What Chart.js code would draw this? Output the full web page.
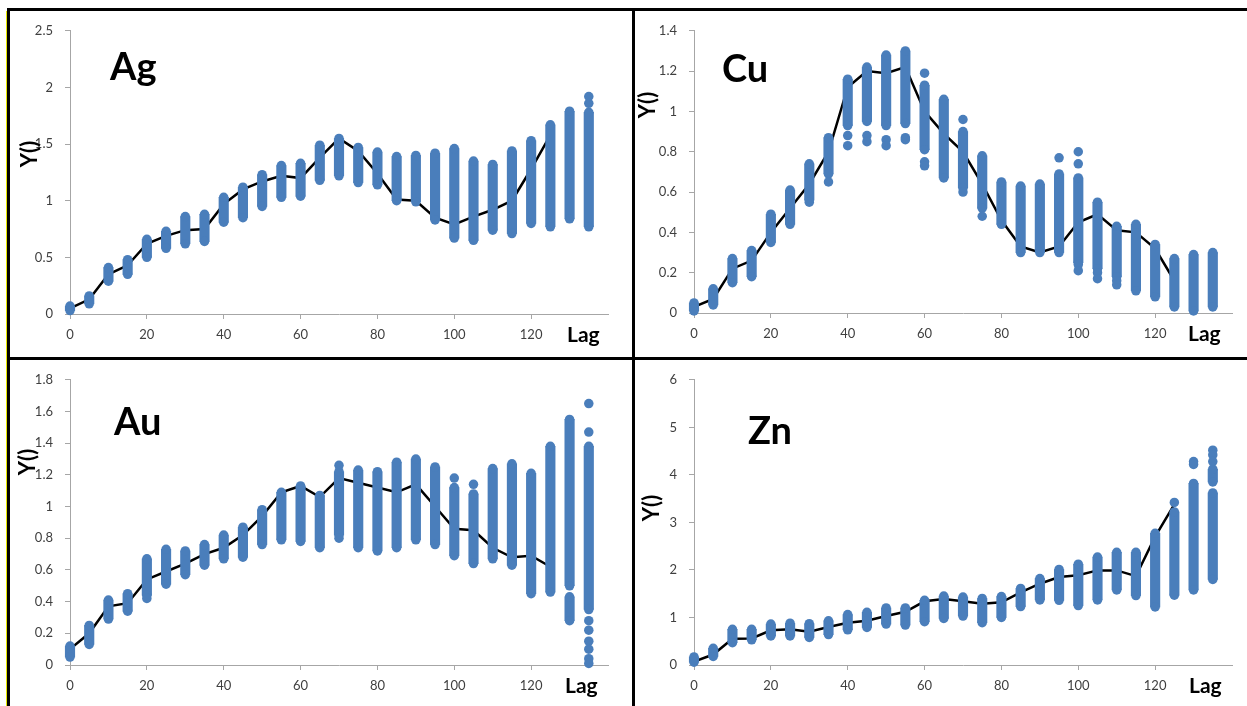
<!DOCTYPE html>
<html>
<head>
<meta charset="utf-8">
<title>Variogram clouds - Ag, Cu, Au, Zn</title>
<script src="https://cdn.jsdelivr.net/npm/chart.js@4.4.1/dist/chart.umd.min.js"></script>
<style>
  body { margin: 0; background: #fff; }
  #wrap { position: relative; width: 1247px; height: 706px; overflow: hidden; background: #fff; }
  #wrap canvas, #wrap .rule { position: absolute; }
  .rule { background: #000; }
</style>
</head>
<body>
<div id="wrap">
  <div class="rule" style="left:6px;top:11px;width:1px;height:695px;background:#e6e600"></div>
  <div class="rule" style="left:7px;top:8px;width:3px;height:698px"></div>
  <div class="rule" style="left:7px;top:8px;width:1240px;height:3px"></div>
  <div class="rule" style="left:632px;top:8px;width:3px;height:698px"></div>
  <div class="rule" style="left:7px;top:357px;width:1240px;height:3px"></div>
  <canvas id="chartAg" width="622" height="346" style="left:10px;top:11px"></canvas>
  <canvas id="chartCu" width="612" height="346" style="left:635px;top:11px"></canvas>
  <canvas id="chartAu" width="622" height="346" style="left:10px;top:360px"></canvas>
  <canvas id="chartZn" width="612" height="346" style="left:635px;top:360px"></canvas>
</div>
<script>
// Lag classes
const lags = [0, 5, 10, 15, 20, 25, 30, 35, 40, 45, 50, 55, 60, 65, 70, 75, 80, 85, 90, 95, 100, 105, 110, 115, 120, 125, 130, 135];
const meanLags = [0, 5, 10, 15, 20, 25, 30, 35, 40, 45, 50, 55, 60, 65, 70, 75, 80, 85, 90, 95, 100, 105, 110, 115, 120, 125];
const xTicks = [0, 20, 40, 60, 80, 100, 120];

// Ag
const agLow = [0.03, 0.09, 0.29, 0.35, 0.50, 0.58, 0.62, 0.64, 0.81, 0.85, 0.95, 1.03, 1.04, 1.18, 1.22, 1.16, 1.14, 1.00, 0.99, 0.83, 0.67, 0.65, 0.74, 0.71, 0.80, 0.77, 0.84, 0.77];
const agHigh = [0.07, 0.16, 0.41, 0.48, 0.66, 0.73, 0.86, 0.88, 1.03, 1.12, 1.23, 1.31, 1.33, 1.49, 1.55, 1.47, 1.43, 1.39, 1.40, 1.42, 1.46, 1.35, 1.32, 1.44, 1.53, 1.67, 1.79, 1.78];
const agDots = [[135, 1.86], [135, 1.92]];
const agRanges = [];
const agMean = [0.05, 0.13, 0.35, 0.43, 0.62, 0.69, 0.74, 0.75, 0.97, 1.10, 1.17, 1.22, 1.20, 1.38, 1.55, 1.44, 1.24, 1.01, 1.00, 0.85, 0.79, 0.86, 0.92, 1.00, 1.28, 1.58];

// Cu
const cuLow = [0.01, 0.04, 0.15, 0.18, 0.35, 0.44, 0.56, 0.69, 0.93, 0.95, 0.93, 0.94, 0.81, 0.67, 0.62, 0.52, 0.44, 0.30, 0.30, 0.30, 0.25, 0.22, 0.18, 0.11, 0.08, 0.03, 0.01, 0.03];
const cuHigh = [0.05, 0.12, 0.27, 0.31, 0.49, 0.61, 0.74, 0.87, 1.16, 1.22, 1.28, 1.30, 1.13, 1.06, 0.90, 0.78, 0.65, 0.63, 0.64, 0.69, 0.67, 0.55, 0.43, 0.44, 0.34, 0.27, 0.29, 0.30];
const cuDots = [[30, 0.55], [35, 0.65], [40, 0.88], [40, 0.83], [45, 0.88], [45, 0.85], [50, 0.86], [50, 0.83], [55, 0.87], [55, 0.86], [60, 1.19], [60, 0.75], [60, 0.73], [70, 0.96], [70, 0.60], [75, 0.48], [95, 0.77], [100, 0.80], [100, 0.74], [100, 0.24], [100, 0.21], [105, 0.20], [105, 0.17], [110, 0.16], [110, 0.14]];
const cuRanges = [];
const cuMean = [0.03, 0.07, 0.22, 0.26, 0.40, 0.52, 0.64, 0.80, 1.12, 1.20, 1.19, 1.22, 1.00, 0.89, 0.80, 0.64, 0.46, 0.33, 0.30, 0.33, 0.45, 0.49, 0.41, 0.40, 0.32, 0.16];

// Au
const auLow = [0.05, 0.13, 0.29, 0.34, 0.44, 0.51, 0.57, 0.63, 0.67, 0.68, 0.76, 0.79, 0.78, 0.74, 0.82, 0.74, 0.72, 0.74, 0.79, 0.76, 0.69, 0.64, 0.67, 0.63, 0.45, 0.46, 0.50, 0.35];
const auHigh = [0.12, 0.25, 0.41, 0.45, 0.67, 0.73, 0.72, 0.76, 0.82, 0.87, 0.98, 1.09, 1.13, 1.07, 1.22, 1.23, 1.22, 1.28, 1.30, 1.25, 1.12, 1.08, 1.24, 1.27, 1.21, 1.38, 1.55, 1.38];
const auDots = [[20, 0.42], [70, 1.26], [70, 0.80], [100, 1.18], [105, 1.14], [135, 1.65], [135, 1.47], [135, 0.28], [135, 0.22], [135, 0.15], [135, 0.10], [135, 0.04], [135, 0.01]];
const auRanges = [[130, 0.28, 0.43]];
const auMean = [0.10, 0.20, 0.37, 0.39, 0.54, 0.59, 0.64, 0.70, 0.74, 0.82, 0.94, 1.09, 1.13, 1.06, 1.18, 1.15, 1.12, 1.09, 1.14, 1.00, 0.86, 0.85, 0.74, 0.68, 0.69, 0.62];

// Zn
const znLow = [0.06, 0.18, 0.47, 0.53, 0.61, 0.61, 0.58, 0.64, 0.74, 0.79, 0.86, 0.84, 0.91, 0.98, 1.03, 0.89, 1.00, 1.23, 1.37, 1.36, 1.25, 1.37, 1.58, 1.46, 1.22, 1.47, 1.58, 1.80];
const znHigh = [0.17, 0.35, 0.75, 0.75, 0.86, 0.88, 0.87, 0.93, 1.06, 1.11, 1.20, 1.20, 1.36, 1.45, 1.43, 1.40, 1.44, 1.61, 1.82, 2.01, 2.12, 2.27, 2.37, 2.37, 2.77, 3.22, 3.82, 3.62];
const znDots = [[125, 3.42], [130, 4.28], [130, 4.22], [135, 4.52], [135, 4.42], [135, 4.28]];
const znRanges = [[135, 3.85, 4.12]];
const znMean = [0.07, 0.22, 0.55, 0.56, 0.73, 0.75, 0.70, 0.80, 0.89, 0.93, 1.03, 1.12, 1.34, 1.39, 1.34, 1.29, 1.32, 1.53, 1.71, 1.85, 1.89, 1.99, 1.99, 1.87, 2.70, 3.38];

const dotBlue = '#4A7EBB';
const axisGray = '#a6a6a6';
const tickText = '#3f3f3f';

// Big labels: element name, "Lag", rotated "Y()"
const panelText = {
  id: 'panelText',
  afterDraw(chart, args, o) {
    const c = chart.ctx;
    c.save();
    c.fillStyle = '#000';
    c.textAlign = 'left';
    c.textBaseline = 'alphabetic';
    c.font = 'bold 38px Lato';
    c.fillText(o.name, o.nameAt[0], o.nameAt[1]);
    c.font = 'bold 21px Lato';
    c.fillText('Lag', o.lagAt[0], o.lagAt[1]);
    c.translate(o.yAt[0], o.yAt[1]);
    c.rotate(-Math.PI / 2);
    c.textAlign = 'center';
    c.textBaseline = 'middle';
    c.font = 'bold 22px Lato';
    c.fillText('Y()', 0, 0);
    c.restore();
  },
};

function buildPanel(id, d, look) {
  const ctx = document.getElementById(id);
  if (!ctx) return;

  // vertical stripes of dots = range bar + dot at each end
  const bars = lags.map((x, i) => ({ x: x, y: [d.low[i], d.high[i]] }));
  const dots = [];
  lags.forEach((x, i) => {
    dots.push({ x: x, y: d.low[i] }, { x: x, y: d.high[i] });
  });
  d.ranges.forEach((r) => {
    bars.push({ x: r[0], y: [r[1], r[2]] });
    dots.push({ x: r[0], y: r[1] }, { x: r[0], y: r[2] });
  });
  d.dots.forEach((p) => dots.push({ x: p[0], y: p[1] }));
  const line = meanLags.map((x, i) => ({ x: x, y: d.mean[i] }));

  new Chart(ctx, {
    type: 'scatter',
    data: {
      datasets: [
        {
          type: 'line',
          data: line,
          borderColor: '#000',
          borderWidth: 2.5,
          pointRadius: 0,
          tension: 0,
          fill: false,
          order: 3,
        },
        {
          type: 'bar',
          data: bars,
          backgroundColor: dotBlue,
          borderWidth: 0,
          barThickness: 9.5,
          clip: false,
          order: 2,
        },
        {
          type: 'scatter',
          data: dots,
          backgroundColor: dotBlue,
          borderWidth: 0,
          pointRadius: 4.75,
          clip: false,
          order: 1,
        },
      ],
    },
    options: {
      responsive: false,
      animation: false,
      events: [],
      layout: { padding: { top: look.top, right: look.right, bottom: 0, left: 0 } },
      plugins: {
        legend: { display: false },
        tooltip: { enabled: false },
        panelText: look.text,
      },
      scales: {
        x: {
          type: 'linear',
          min: 0,
          max: 140,
          offset: false,
          afterFit: (s) => { s.height = look.xh; },
          afterBuildTicks: (s) => { s.ticks = xTicks.concat([140]).map((v) => ({ value: v })); },
          grid: {
            offset: false,
            drawOnChartArea: false,
            tickLength: 5,
            color: (c) => (c.tick && c.tick.value === 140 ? 'rgba(0,0,0,0)' : axisGray),
          },
          border: { color: axisGray, width: 1 },
          ticks: {
            autoSkip: false,
            maxRotation: 0,
            padding: 8,
            color: tickText,
            font: { family: 'Lato', size: 13 },
            callback: (v) => (v === 140 ? '' : String(v)),
          },
        },
        y: {
          type: 'linear',
          min: 0,
          max: look.ymax,
          afterFit: (s) => { s.width = look.yw; },
          grid: { drawOnChartArea: false, tickLength: 5, color: axisGray },
          border: { color: axisGray, width: 1 },
          ticks: {
            stepSize: look.step,
            padding: 12,
            color: tickText,
            font: { family: 'Lato', size: 13 },
            callback: (v) => String(Math.round(v * 10) / 10),
          },
        },
      },
    },
    plugins: [panelText],
  });
}

buildPanel('chartAg', { low: agLow, high: agHigh, dots: agDots, ranges: agRanges, mean: agMean }, {
  ymax: 2.5, step: 0.5, top: 14, right: 24, yw: 60, xh: 43,
  text: { name: 'Ag', nameAt: [100, 69], lagAt: [557, 331], yAt: [20, 143] },
});
buildPanel('chartCu', { low: cuLow, high: cuHigh, dots: cuDots, ranges: cuRanges, mean: cuMean }, {
  ymax: 1.4, step: 0.2, top: 14, right: 15, yw: 59, xh: 44,
  text: { name: 'Cu', nameAt: [87, 71], lagAt: [553, 330], yAt: [13, 94] },
});
buildPanel('chartAu', { low: auLow, high: auHigh, dots: auDots, ranges: auRanges, mean: auMean }, {
  ymax: 1.8, step: 0.2, top: 17, right: 24, yw: 60, xh: 41,
  text: { name: 'Au', nameAt: [104, 75], lagAt: [555, 333], yAt: [18, 102] },
});
buildPanel('chartZn', { low: znLow, high: znHigh, dots: znDots, ranges: znRanges, mean: znMean }, {
  ymax: 6, step: 1, top: 17, right: 15, yw: 59, xh: 41,
  text: { name: 'Zn', nameAt: [113, 84], lagAt: [554, 333], yAt: [17, 148] },
});
</script>
</body>
</html>
